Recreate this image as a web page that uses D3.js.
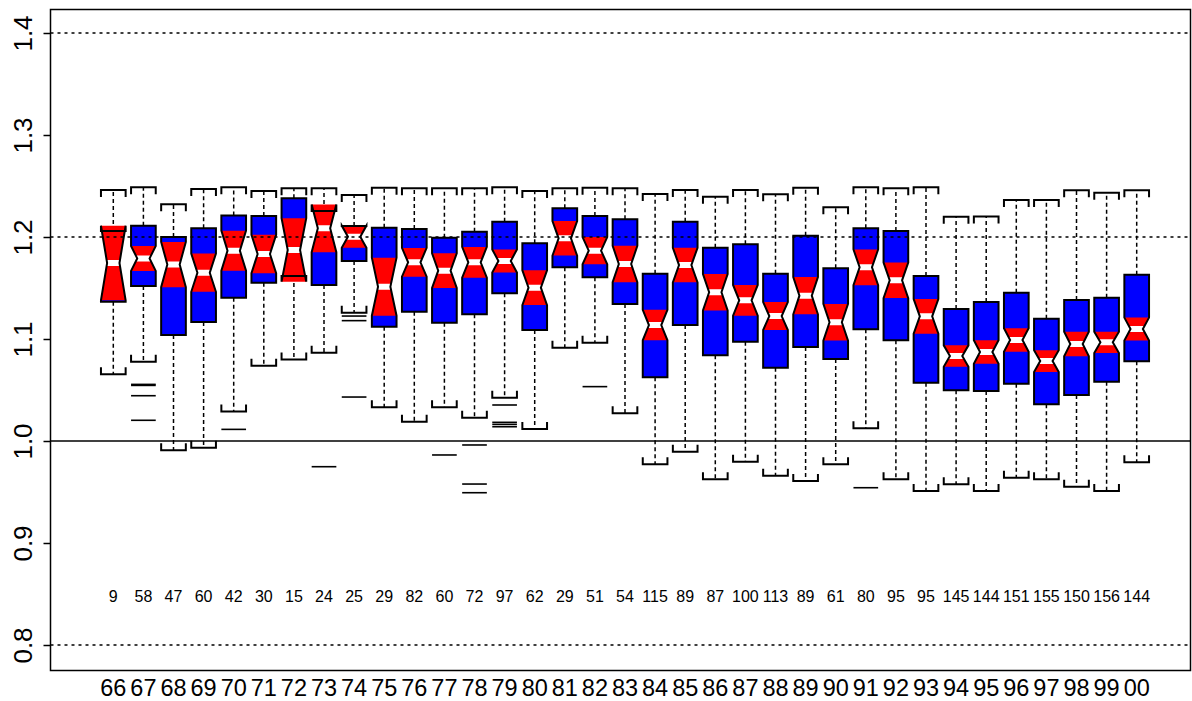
<!DOCTYPE html>
<html><head><meta charset="utf-8">
<script src="https://cdn.jsdelivr.net/npm/d3@7"></script>
<style>html,body{margin:0;padding:0;background:#fff;}svg{display:block;font-family:"Liberation Sans",Arial,sans-serif;}</style>
</head><body>
<svg id="chart" width="1192" height="701"></svg>
<script>
const categories = ["66","67","68","69","70","71","72","73","74","75","76","77","78","79","80","81","82","83","84","85","86","87","88","89","90","91","92","93","94","95","96","97","98","99","00"];
const counts = [9,58,47,60,42,30,15,24,25,29,82,60,72,97,62,29,51,54,115,89,87,100,113,89,61,80,95,95,145,144,151,155,150,156,144];
const whiskerHi = [1.246,1.2487,1.232,1.247,1.2487,1.2451,1.2477,1.2477,1.2412,1.2484,1.2477,1.2477,1.2477,1.2487,1.2451,1.2477,1.2484,1.2477,1.2422,1.2461,1.2395,1.2461,1.2418,1.2484,1.2291,1.2487,1.2477,1.2487,1.2199,1.22,1.2363,1.2363,1.2458,1.2435,1.2458];
const q3 = [1.206,1.211,1.200,1.2085,1.221,1.2206,1.238,1.2255,1.2108,1.209,1.2078,1.1993,1.2052,1.215,1.1938,1.2281,1.2206,1.2173,1.164,1.215,1.1895,1.1928,1.164,1.2013,1.1693,1.2085,1.2059,1.1618,1.1294,1.1363,1.1454,1.1199,1.1382,1.1405,1.163];
const medians = [1.1745,1.179,1.173,1.165,1.1866,1.1833,1.1873,1.2085,1.2003,1.1513,1.1752,1.167,1.1752,1.1765,1.1503,1.1987,1.1866,1.1735,1.1137,1.1725,1.1458,1.1379,1.1225,1.1425,1.1164,1.1703,1.1575,1.1222,1.0833,1.0873,1.099,1.0784,1.0951,1.0967,1.1098];
const q1 = [1.1366,1.152,1.1039,1.1167,1.1405,1.1552,1.1618,1.1529,1.1765,1.1121,1.1268,1.116,1.1242,1.1448,1.1088,1.1703,1.1605,1.1343,1.0624,1.1137,1.084,1.0974,1.0719,1.0922,1.0804,1.1095,1.0987,1.0572,1.0497,1.049,1.0562,1.036,1.0451,1.0582,1.0781];
const whiskerLo = [1.0654,1.0778,0.991,0.9935,1.0288,1.0738,1.080,1.0866,1.1258,1.033,1.0189,1.033,1.0229,1.0425,1.0118,1.0915,1.0964,1.0271,0.9771,0.9895,0.9624,0.9797,0.966,0.9608,0.9771,1.0124,0.9624,0.951,0.9575,0.951,0.964,0.9624,0.9552,0.951,0.9791];
const outliers = [[],[1.0555,1.0545,1.0444,1.0203],[],[],[1.0114],[],[],[0.9748],[1.1225,1.118,1.0431],[],[],[0.9863],[0.9961,0.9578,0.9493],[1.0353,1.0183,1.0163,1.014],[],[],[1.0533],[],[],[],[],[],[],[],[],[0.9542],[],[],[],[],[],[],[],[],[]];
const yTicks = [0.8,0.9,1.0,1.1,1.2,1.3,1.4];
const gridDashed = [0.8,1.2,1.4];
const gridSolid = [1.0];

const svg = d3.select("#chart");
const L = 50.5, R = 1190.5, T = 9.5, B = 670.5;
const y = d3.scaleLinear().domain([0.8,1.4]).range([645,33]);
const x = d3.scalePoint().domain(categories).range([113.3,1136.7]);
const half = x.step()*0.41, waist = half*0.5;

const boxes = categories.map((c,i)=>{
  const iqr = q3[i]-q1[i];
  const nt = 1.58*iqr/Math.sqrt(counts[i]);
  return {c,i,n:counts[i],hi:whiskerHi[i],q3:q3[i],med:medians[i],q1:q1[i],lo:whiskerLo[i],nHi:medians[i]+nt,nLo:medians[i]-nt,out:outliers[i]};
});

const g = svg.append("g");
boxes.forEach(b=>{
  const cx = x(b.c), xl = cx-half, xr = cx+half, ml = cx-waist, mr = cx+waist;
  const yq1=y(b.q1), yq3=y(b.q3), ym=y(b.med), ynh=y(b.nHi), ynl=y(b.nLo);
  g.append("line").attr("x1",cx).attr("x2",cx).attr("y1",yq3).attr("y2",y(b.hi))
    .attr("stroke","#000").attr("stroke-width",1.5).attr("stroke-dasharray","4,3");
  g.append("line").attr("x1",cx).attr("x2",cx).attr("y1",yq1).attr("y2",y(b.lo))
    .attr("stroke","#000").attr("stroke-width",1.5).attr("stroke-dasharray","4,3");
  const yh=y(b.hi), yl=y(b.lo);
  g.append("path").attr("d",`M${xl},${yh+7}V${yh}H${xr}V${yh+7}`).attr("fill","none").attr("stroke","#000").attr("stroke-width",2);
  g.append("path").attr("d",`M${xl},${yl-7}V${yl}H${xr}V${yl-7}`).attr("fill","none").attr("stroke","#000").attr("stroke-width",2);
  const pts = [[xl,yq1],[xl,ynl],[ml,ym],[xl,ynh],[xl,yq3],[xr,yq3],[xr,ynh],[mr,ym],[xr,ynl],[xr,yq1]];
  g.append("polygon").attr("points",pts.map(p=>p.join(",")).join(" ")).attr("fill","#0000ff").attr("stroke","none");
  const red = [[xl,ynh],[xr,ynh],[mr,ym],[xr,ynl],[xl,ynl],[ml,ym]];
  g.append("polygon").attr("points",red.map(p=>p.join(",")).join(" ")).attr("fill","#ff0000").attr("stroke","none");
  const band = 3;
  const dxU = (half-waist)*band/Math.max(1,ym-ynh), dxD = (half-waist)*band/Math.max(1,ynl-ym);
  const wb = [[ml-dxU,ym-band],[mr+dxU,ym-band],[mr,ym],[mr+dxD,ym+band],[ml-dxD,ym+band],[ml,ym]];
  g.append("polygon").attr("points",wb.map(p=>p.join(",")).join(" ")).attr("fill","#ffffff").attr("stroke","none");
  g.append("polygon").attr("points",pts.map(p=>p.join(",")).join(" ")).attr("fill","none").attr("stroke","#000").attr("stroke-width",2).attr("stroke-linejoin","miter");
  b.out.forEach(v=>{
    g.append("line").attr("x1",xl).attr("x2",xr).attr("y1",y(v)).attr("y2",y(v)).attr("stroke","#000").attr("stroke-width",1.6);
  });
  g.append("text").attr("x",cx).attr("y",602).attr("text-anchor","middle").attr("font-size",16).text(b.n);
  g.append("text").attr("x",cx).attr("y",696).attr("text-anchor","middle").attr("font-size",23.5).text(b.c);
});

gridDashed.forEach(v=>{
  svg.append("line").attr("x1",L).attr("x2",R).attr("y1",y(v)).attr("y2",y(v)).attr("stroke","#000").attr("stroke-width",1.3).attr("stroke-dasharray","3,4");
});
gridSolid.forEach(v=>{
  svg.append("line").attr("x1",L).attr("x2",R).attr("y1",y(v)).attr("y2",y(v)).attr("stroke","#000").attr("stroke-width",1.3);
});

svg.append("rect").attr("x",L).attr("y",T).attr("width",R-L).attr("height",B-T).attr("fill","none").attr("stroke","#000").attr("stroke-width",1.5);

const yAxis = d3.axisLeft(y).tickValues(yTicks).tickSize(7).tickFormat(d3.format(".1f"));
const ax = svg.append("g").attr("transform",`translate(${L},0)`).call(yAxis);
ax.select(".domain").remove();
ax.selectAll(".tick line").attr("stroke","#000").attr("stroke-width",1.5);
ax.selectAll(".tick text").attr("font-size",26).attr("font-family","Liberation Sans, Arial, sans-serif").attr("fill","#000")
  .attr("text-anchor","middle").attr("x",0).attr("dy",0)
  .attr("transform","translate(-28,0) rotate(-90)").attr("y",0).attr("dominant-baseline","central");
</script>
</body></html>
